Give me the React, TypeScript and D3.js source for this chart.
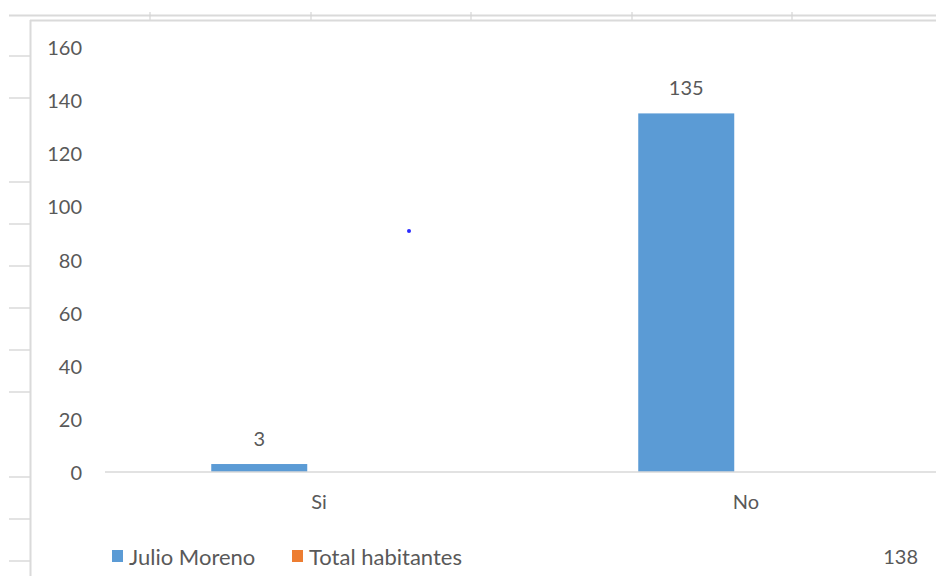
import React from "react";
import * as d3 from "d3";

const categories = ["Si", "No"];
const seriesNames = ["Julio Moreno", "Total habitantes"];
const julioMoreno = [3, 135];
const totalHabitantes = [0, 0];
const yTicks = [0, 20, 40, 60, 80, 100, 120, 140, 160];
const stray138 = "138";
const sheetRowLines = [56, 98, 182, 224, 266, 308, 350, 392, 477, 519, 561];
const sheetColLines = [150, 311, 471, 632, 792];

const colors = ["#5B9BD5", "#ED7D31"];
const textColor = "#595959";
const font = "Lato, 'Open Sans', sans-serif";

export default function App() {
  const W = 936;
  const H = 576;
  const y = d3.scaleLinear().domain([0, 160]).range([472, 47]);
  const x0 = d3.scaleBand<string>().domain(categories).range([105.5, 959.5]).padding(0);
  const x1 = d3
    .scaleBand<string>()
    .domain(seriesNames)
    .range([0, x0.bandwidth()])
    .paddingInner(0)
    .paddingOuter(1.224)
    .align(0.45);
  const data = [julioMoreno, totalHabitantes];

  return (
    <svg
      width={W}
      height={H}
      style={{ position: "fixed", left: 0, top: 0, background: "#fff", display: "block" }}
      fontFamily={font}
    >
      <rect x={0} y={0} width={W} height={H} fill="#fff" />
      {/* spreadsheet lines */}
      <line x1={9} x2={W} y1={15.5} y2={15.5} stroke="#DADADA" strokeWidth={2} />
      {sheetColLines.map((cx) => (
        <line key={cx} x1={cx} x2={cx} y1={12} y2={20} stroke="#D6D6D6" strokeWidth={1.2} />
      ))}
      {sheetRowLines.map((ry) => (
        <line key={ry} x1={9} x2={30} y1={ry} y2={ry} stroke="#DADADA" strokeWidth={1.5} />
      ))}
      {/* chart border */}
      <line x1={30} x2={W} y1={20.5} y2={20.5} stroke="#DADADA" strokeWidth={2} />
      <line x1={30.5} x2={30.5} y1={20} y2={H} stroke="#DADADA" strokeWidth={2} />

      {/* y axis labels */}
      {yTicks.map((t) => (
        <text
          key={t}
          x={82}
          y={y(t)}
          textAnchor="end"
          dominantBaseline="central"
          fontSize={20}
          fill={textColor}
        >
          {t}
        </text>
      ))}

      {/* bars */}
      {data.map((vals, si) =>
        categories.map((c, ci) => {
          const v = vals[ci];
          if (!v) return null;
          const bx = (x0(c) as number) + (x1(seriesNames[si]) as number);
          return (
            <rect
              key={`${si}-${ci}`}
              x={bx}
              y={y(v)}
              width={x1.bandwidth()}
              height={y(0) - y(v)}
              fill={colors[si]}
            />
          );
        })
      )}
      {/* x axis line */}
      <line x1={105} x2={W} y1={y(0)} y2={y(0)} stroke="#D9D9D9" strokeWidth={1.5} />

      {/* data labels */}
      {julioMoreno.map((v, ci) => {
        const c = categories[ci];
        const bx = (x0(c) as number) + (x1(seriesNames[0]) as number) + x1.bandwidth() / 2;
        return (
          <text
            key={c}
            x={bx}
            y={y(v) - 26}
            textAnchor="middle"
            dominantBaseline="central"
            fontSize={20}
            fill={textColor}
          >
            {v}
          </text>
        );
      })}

      {/* category labels */}
      {categories.map((c) => (
        <text
          key={c}
          x={(x0(c) as number) + x0.bandwidth() / 2}
          y={501}
          textAnchor="middle"
          dominantBaseline="central"
          fontSize={20}
          fill={textColor}
        >
          {c}
        </text>
      ))}

      {/* legend */}
      <rect x={112} y={550} width={11} height={12} fill={colors[0]} />
      <text x={129} y={556} dominantBaseline="central" fontSize={22} fill={textColor}>
        {seriesNames[0]}
      </text>
      <rect x={292} y={550} width={11} height={12} fill={colors[1]} />
      <text x={309} y={556} dominantBaseline="central" fontSize={22} fill={textColor}>
        {seriesNames[1]}
      </text>

      {/* stray cell value */}
      <text x={918} y={556} textAnchor="end" dominantBaseline="central" fontSize={20} fill={textColor}>
        {stray138}
      </text>

      {/* stray dot */}
      <circle cx={409} cy={231} r={2} fill="#2a2aff" />
    </svg>
  );
}
